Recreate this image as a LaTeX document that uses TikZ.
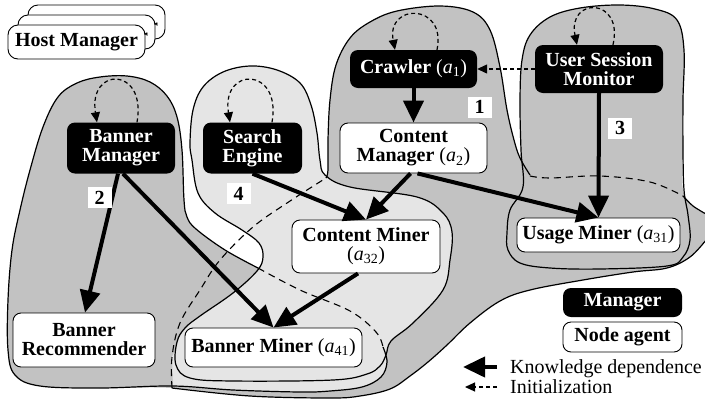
\documentclass[tikz,border=0pt]{standalone}
\usepackage{fontspec}
\setmainfont{Liberation Serif}
\usetikzlibrary{arrows.meta}
\definecolor{blobdark}{gray}{0.76}
\definecolor{bloblight}{gray}{0.9}
\newcommand\figfont{\fontsize{20}{19}\selectfont}
\newcommand\sub[2]{{\mdseries(\textit{#1}\textsubscript{#2})}}
\tikzset{
  mgr/.style={rectangle, rounded corners=8pt, fill=black, text=white, font=\figfont\bfseries, align=center, inner sep=0pt},
  agent/.style={rectangle, rounded corners=8pt, fill=white, draw=black, line width=0.9pt, font=\figfont\bfseries, align=center, inner sep=0pt},
  hostbox/.style={agent, rounded corners=10pt, minimum width=137pt, minimum height=34pt},
  numbox/.style={fill=white, font=\figfont\bfseries, minimum width=24pt, minimum height=21pt, inner sep=0pt},
  know/.style={line width=4pt, -{Triangle[length=22pt,width=20pt]}},
  init/.style={line width=1.2pt, dash pattern=on 4pt off 3pt, -{Triangle[length=10pt,width=9pt]}},
  blobline/.style={line width=1.2pt, line join=round},
  blobdash/.style={line width=1.1pt, dash pattern=on 7pt off 5pt},
}
\begin{document}
\begin{tikzpicture}[x=1pt,y=-1pt]
\useasboundingbox (0,0) rectangle (705,400);
% ---------- fills ----------
\fill[blobdark]
  plot[smooth, tension=0.6] coordinates {(258,268) (300,222) (326,178)}
  -- plot[smooth, tension=0.6] coordinates {(328,170) (328,140) (330,100) (336,65) (350,38) (370,22) (397,11) (440,6) (473,12) (490,30) (500,67) (507,110) (514,140) (520,160)}
  -- plot[smooth, tension=0.6] coordinates {(521,148) (520,100) (522,60) (530,35) (550,17) (580,8) (620,5) (655,9) (677,20) (684,50) (683,100) (683,150) (683,190) (693,206) (706,214) (720,215)}
  -- (720,240)
  -- plot[smooth, tension=0.6] coordinates {(705,240) (690,257) (667,268) (633,272) (583,280) (530,290) (500,301) (470,323) (447,345) (428,362) (410,376) (390,389) (360,396) (330,398) (250,396) (172,388) (100,388) (40,386) (15,375) (8,350) (8,300) (12,250) (20,210) (30,170) (43,127) (58,97) (77,83) (100,77) (127,76) (150,82) (167,96) (177,117) (182,150) (184,200) (187,217) (196,229) (225,250) (258,268)}
  -- cycle;
\fill[bloblight] plot[smooth cycle, tension=0.6] coordinates {(190,143) (193,110) (203,87) (223,72) (250,66) (277,70) (300,83) (311,105) (317,133) (320,160) (325,175) (350,187) (417,197) (443,213) (452,232) (450,260) (443,290) (413,323) (391,341) (386,355) (380,366) (367,374) (333,380) (233,381) (190,378) (176,365) (177,342) (185,328) (200,316) (233,293) (257,271) (263,257) (259,243) (242,230) (215,213) (198,193) (192,160)};
\fill[bloblight] plot[smooth, tension=0.6] coordinates {(383,347) (387,362) (381,377) (362,387) (330,391) (300,392) (233,390) (173,386)} -- (172,357) -- (180,340) -- (300,350) -- cycle;
% ---------- outlines ----------
% group 2
\draw[blobline] plot[smooth, tension=0.6] coordinates {(383,347) (387,362) (381,377) (362,387) (330,391) (300,392) (233,390) (173,386) (100,388) (40,386) (15,375) (8,350) (8,300) (12,250) (20,210) (30,170) (43,127) (58,97) (77,83) (100,77) (127,76) (150,82) (167,96) (177,117) (182,150) (184,200) (187,217) (196,229) (225,250) (258,268)};
\draw[blobdash] plot[smooth, tension=0.6] coordinates {(258,268) (300,290) (350,311) (376,332) (383,347)};
% group 1
\draw[blobline] plot[smooth, tension=0.6] coordinates {(326,178) (328,170) (328,140) (330,100) (336,65) (350,38) (370,22) (397,11) (440,6) (473,12) (490,30) (500,67) (507,110) (514,140) (520,158) (530,175)};
\draw[blobdash] plot[smooth, tension=0.6] coordinates {(530,176) (550,178) (600,176) (650,182) (683,196)};
\draw[blobline] plot[smooth, tension=0.6] coordinates {(683,196) (693,206) (706,214)};
\draw[blobline] plot[smooth, tension=0.6] coordinates {(706,240) (690,257) (667,268) (633,272) (583,280) (530,290) (500,301) (470,323) (447,345) (428,362) (410,376) (390,389) (360,396) (330,398) (250,396) (172,388)};
\draw[blobdash] plot[smooth, tension=0.6] coordinates {(172,388) (172,357) (180,323) (200,290) (220,260) (253,227) (287,203) (326,178)};
% group 3
\draw[blobline] plot[smooth cycle, tension=0.6] coordinates {(523,187) (521,150) (520,100) (522,60) (530,35) (550,17) (580,8) (620,5) (655,9) (677,20) (684,50) (683,100) (683,150) (684,190) (688,215) (690,240) (683,257) (667,266) (600,269) (550,268) (520,263) (508,250) (507,233) (510,210)};
% group 4
\draw[blobline] plot[smooth cycle, tension=0.6] coordinates {(190,143) (193,110) (203,87) (223,72) (250,66) (277,70) (300,83) (311,105) (317,133) (320,160) (325,175) (350,187) (417,197) (443,213) (452,232) (450,260) (443,290) (413,323) (391,341) (386,355) (380,366) (367,374) (333,380) (233,381) (190,378) (176,365) (177,342) (185,328) (200,316) (233,293) (257,271) (263,257) (259,243) (242,230) (215,213) (198,193) (192,160)};
% ---------- host manager stack ----------
\node[hostbox, text height=21pt, text depth=0pt] (hm3) at (96.5,22) {Host Manager};
\node[hostbox, text height=21pt, text depth=0pt] (hm2) at (86.5,32) {Host Manager};
\node[hostbox] (hm1) at (76.5,42) {Host Manager};
% ---------- nodes ----------
\node[mgr, minimum width=108pt, minimum height=51pt] (bm) at (121,148) {Banner\\Manager};
\node[mgr, minimum width=99pt, minimum height=51pt] (se) at (252.5,148) {Search\\Engine};
\node[mgr, minimum width=127pt, minimum height=38pt] (cr) at (413.5,69) {Crawler \sub{a}{1}};
\node[mgr, minimum width=128pt, minimum height=48pt] (usm) at (599,69) {User Session\\Monitor};
\node[agent, minimum width=147pt, minimum height=50pt] (cm) at (413.5,148) {Content\\Manager \sub{a}{2}};
\node[agent, minimum width=148pt, minimum height=53pt] (cmi) at (366,246.5) {Content Miner\\\sub{a}{32}};
\node[agent, minimum width=163pt, minimum height=34pt] (um) at (598.5,235) {Usage Miner \sub{a}{31}};
\node[agent, minimum width=142pt, minimum height=54pt] (br) at (84,340) {Banner\\Recommender};
\node[agent, minimum width=177pt, minimum height=39pt] (bmi) at (273.5,347.5) {Banner Miner \sub{a}{41}};
% ---------- self loops (initialization) ----------
\draw[init] ([xshift=16pt]bm.north) .. controls +(10,-56) and +(-9,-56) .. ([xshift=-24pt]bm.north);
\draw[init] ([xshift=19.5pt]se.north) .. controls +(10,-56) and +(-9,-56) .. ([xshift=-22.5pt]se.north);
\draw[init] ([xshift=23.5pt]cr.north) .. controls +(10,-47) and +(-9,-47) .. ([xshift=-18.5pt]cr.north);
\draw[init] ([xshift=14pt]usm.north) .. controls +(11,-48) and +(-10,-48) .. ([xshift=-22pt]usm.north);
\draw[init] (usm.west) -- (cr.east);
% ---------- knowledge dependences ----------
\draw[know] (cr.south) -- (cm.north);
\draw[know] ([xshift=-3pt]bm.south) -- ([xshift=1pt]br.north);
\draw[know] ([xshift=2pt]bm.south) -- (bmi.north);
\draw[know] (se.south) -- (cmi.north);
\draw[know] ([xshift=-3pt]cm.south) -- (cmi.north);
\draw[know] ([xshift=4pt]cm.south) -- (um.north);
\draw[know] (usm.south) -- (um.north);
\draw[know] ([xshift=-8pt]cmi.south) -- (bmi.north);
% ---------- group numbers ----------
\node[numbox] (n1) at (479.5,107) {1};
\node[numbox] (n2) at (99.5,197.5) {2};
\node[numbox] (n3) at (620,128) {3};
\node[numbox] (n4) at (238.5,193.5) {4};
% ---------- legend ----------
\node[mgr, minimum width=119pt, minimum height=29pt] (lm) at (622.5,302.5) {Manager};
\node[agent, minimum width=119pt, minimum height=30pt] (la) at (622.5,337) {Node agent};
\coordinate (k1) at (497,367);
\coordinate (k2) at (463,367);
\coordinate (i1) at (497,387);
\coordinate (i2) at (465,387);
\draw[know] (k1) -- (k2);
\draw[init] (i1) -- (i2);
\node[anchor=base west, inner sep=0pt, font=\figfont] (kt) at (510,373) {Knowledge dependence};
\node[anchor=base west, inner sep=0pt, font=\figfont] (it) at (510,393) {Initialization};
\end{tikzpicture}
\end{document}
